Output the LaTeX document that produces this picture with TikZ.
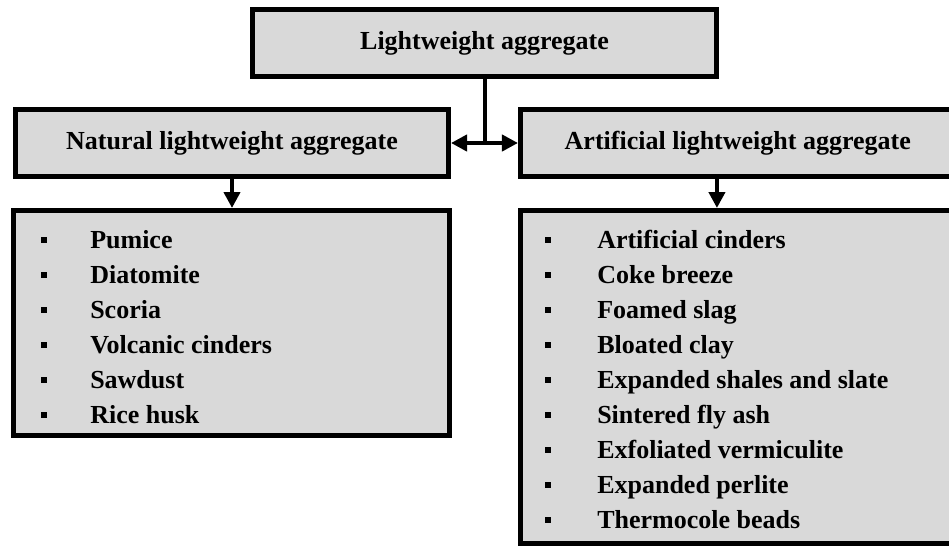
\documentclass[tikz,border=0pt]{standalone}
\usepackage{fontspec}
\setmainfont{Liberation Serif}
\usetikzlibrary{arrows.meta}
\definecolor{boxgray}{RGB}{217,217,217}

\begin{document}
\begin{tikzpicture}[x=0.75pt, y=-0.75pt]
	\tikzstyle{box} = [ draw, rectangle, line width=3.75pt, fill=boxgray, inner sep=0pt, font={\fontsize{19.5}{26}\selectfont\bfseries}];
	\tikzstyle{item} = [ anchor=base west, inner sep=0pt, font={\fontsize{19.5}{26}\selectfont\bfseries}];
	\tikzstyle{bullet} = [ fill=black, rectangle, minimum size=4.5pt, inner sep=0pt];
	\tikzstyle{link} = [ line width=3pt, -{Triangle[length=12pt, width=12pt]}];

	\useasboundingbox (0,0) rectangle (949,546);

	\node[box, minimum width=348pt, minimum height=50.25pt] (top) at (484.5,43) {Lightweight aggregate};
	\node[box, minimum width=324.75pt, minimum height=50.25pt] (natural) at (232,143) {Natural lightweight aggregate};
	\node[box, minimum width=325.9pt, minimum height=50.25pt] (artificial) at (737.75,143) {Artificial lightweight aggregate};

	\node[box, minimum width=327pt, minimum height=168.75pt] (natlist) at (231.5,323) {};
	\node[box, minimum width=325.9pt, minimum height=249.75pt] (artlist) at (737.75,377) {};

	% list entries
	\def \natural {Pumice, Diatomite, Scoria, Volcanic cinders, Sawdust, Rice husk}
	\def \artificial {Artificial cinders, Coke breeze, Foamed slag, Bloated clay,
		Expanded shales and slate, Sintered fly ash, Exfoliated vermiculite,
		Expanded perlite, Thermocole beads}

	\foreach \x [count=\xi] in \natural {
		\node[bullet] (nb\xi) at (44,{240+35*(\xi-1)}) {};
		\node[item] (n\xi) at (90,{248+35*(\xi-1)}) {\x};
	}
	\foreach \x [count=\xi] in \artificial {
		\node[bullet] (ab\xi) at (548,{240+35*(\xi-1)}) {};
		\node[item] (a\xi) at (597,{248+35*(\xi-1)}) {\x};
	}

	\coordinate (junction) at (top.south |- natural.east);

	\draw[link, -] (top.south) -- (junction);
	\draw[link, {Triangle[length=12pt, width=12pt]}-{Triangle[length=12pt, width=12pt]}] (natural.east) -- (artificial.west);
	\draw[link] (natural.south) -- (natural.south |- natlist.north);
	\draw[link] ([xshift=-15.6pt]artificial.south) -- ([xshift=-15.6pt]artlist.north);
\end{tikzpicture}
\end{document}
